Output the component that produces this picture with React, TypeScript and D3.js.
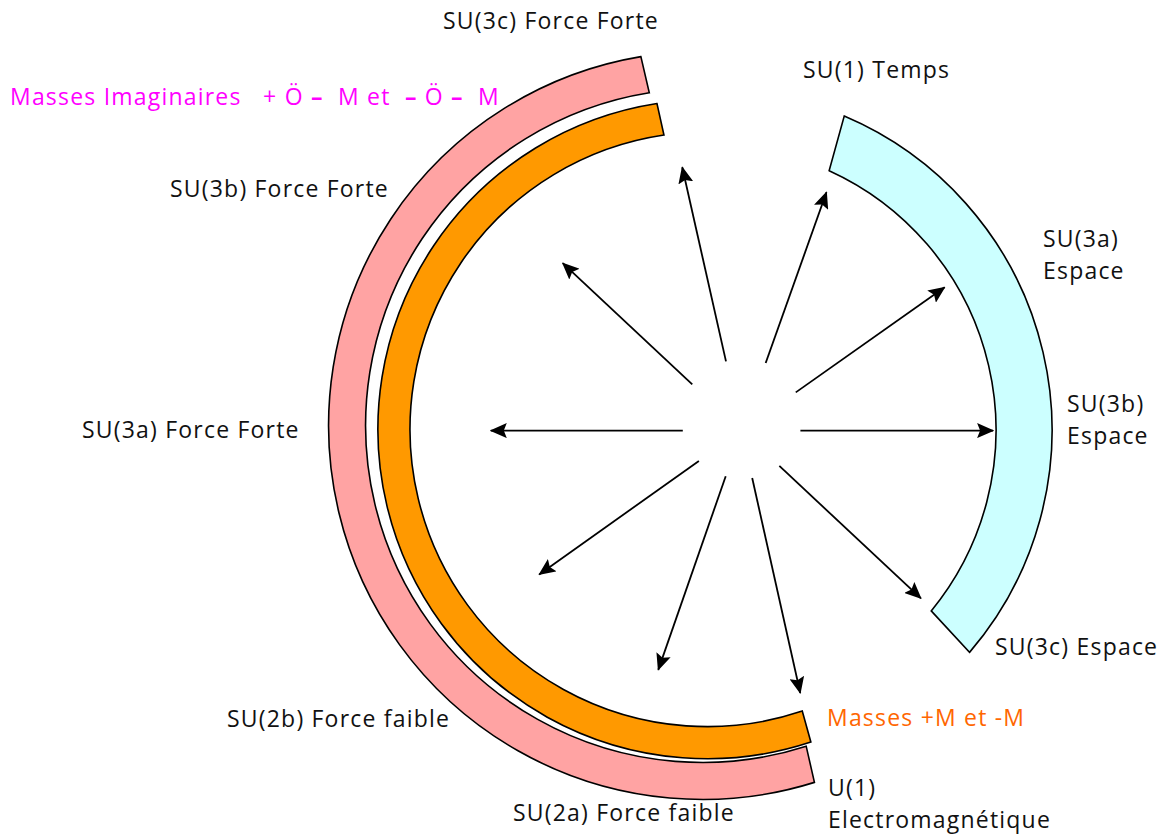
import React from "react";
import * as d3 from "d3";

// ---- Data ----
// Arcs (bands): centre, radii and angular extent (degrees, 0 = up, clockwise)
const bandIds = ["imaginaires", "masses", "espace"];
const bandFill = ["#FFA3A3", "#FF9900", "#CCFFFF"];
const bandCx = [702.6, 707.4, 711];
const bandCy = [425.5, 429.2, 430];
const bandInnerR = [337, 297.4, 285];
const bandOuterR = [374, 329.5, 341];
const bandInnerStart = [162.1, 161.4, 24.5];
const bandInnerEnd = [350.9, 351.6, 129.4];
const bandOuterStart = [162.6, 161.7, 23.0];
const bandOuterEnd = [350.5, 351.2, 130.7];

// Arrows radiating from the centre
const arrowCenter = [741.6, 430.6];
const arrowAngle = [-46.9, -12.7, 19.6, 54.8, 90, 133.1, 167.4, 199.2, 234.6, 270];
const arrowStartR = [67.6, 71, 71.8, 66.3, 58.8, 51.7, 48.6, 48.3, 52.4, 58.8];
const arrowEndR = [245, 270, 253, 248.5, 251.5, 245.6, 268.9, 253.4, 248.3, 250.8];

// Labels
const labelText = [
  ["SU(3c) Force Forte"],
  ["Masses Imaginaires   + Ö –  M et  – Ö –  M"],
  ["SU(1) Temps"],
  ["SU(3b) Force Forte"],
  ["SU(3a)", "Espace"],
  ["SU(3a) Force Forte"],
  ["SU(3b)", "Espace"],
  ["SU(3c) Espace"],
  ["Masses +M et -M"],
  ["SU(2b) Force faible"],
  ["U(1)", "Electromagnétique"],
  ["SU(2a) Force faible"],
];
const labelColor = [
  "#111", "#FF00FF", "#111", "#111", "#111", "#111",
  "#111", "#111", "#FF6600", "#111", "#111", "#111",
];
const labelX = [443, 10, 803, 170, 1043, 82, 1067, 995, 827, 227, 828, 513];
const labelY = [29, 105, 78, 197, 247, 438, 412, 655, 726, 727, 796, 821];

const deg = d3.scaleLinear().domain([0, 360]).range([0, 2 * Math.PI]);

function bandPath(i: number): string {
  const cx = bandCx[i];
  const cy = bandCy[i];
  const toCanvas = (a: number) => deg(a) - Math.PI / 2;
  const ao0 = toCanvas(bandOuterStart[i]);
  const ao1 = toCanvas(bandOuterEnd[i]);
  const ai0 = toCanvas(bandInnerStart[i]);
  const ai1 = toCanvas(bandInnerEnd[i]);
  const p = d3.path();
  p.moveTo(cx + bandOuterR[i] * Math.cos(ao0), cy + bandOuterR[i] * Math.sin(ao0));
  p.arc(cx, cy, bandOuterR[i], ao0, ao1, false);
  p.lineTo(cx + bandInnerR[i] * Math.cos(ai1), cy + bandInnerR[i] * Math.sin(ai1));
  p.arc(cx, cy, bandInnerR[i], ai1, ai0, true);
  p.closePath();
  return p.toString();
}

function arrowPts(i: number) {
  const a = deg(arrowAngle[i]);
  const [cx, cy] = arrowCenter;
  return {
    x1: cx + arrowStartR[i] * Math.sin(a),
    y1: cy - arrowStartR[i] * Math.cos(a),
    x2: cx + arrowEndR[i] * Math.sin(a),
    y2: cy - arrowEndR[i] * Math.cos(a),
  };
}

function renderLine(l: string) {
  // dashes drawn heavier, as in the original symbol rendering
  const parts = l.split(/(–)/);
  return parts.map((s, k) =>
    s === "–" ? (
      <tspan key={k} fontWeight="bold">
        {s}
      </tspan>
    ) : (
      <tspan key={k}>{s}</tspan>
    )
  );
}

export default function App() {
  return (
    <svg
      width={1172}
      height={835}
      style={{ position: "absolute", left: 0, top: 0, background: "#fff" }}
    >
      <defs>
        <marker
          id="ah"
          markerUnits="userSpaceOnUse"
          viewBox="0 0 17 15"
          markerWidth={17}
          markerHeight={15}
          refX={16}
          refY={7.5}
          orient="auto"
        >
          <path d="M0,0 L17,7.5 L0,15 L3,7.5 Z" fill="#000" />
        </marker>
      </defs>
      {bandIds.map((id, i) => (
        <path
          key={id}
          d={bandPath(i)}
          fill={bandFill[i]}
          stroke="#000"
          strokeWidth={1.6}
          strokeLinejoin="miter"
        />
      ))}
      {arrowAngle.map((_, i) => {
        const p = arrowPts(i);
        return (
          <line
            key={i}
            {...p}
            stroke="#000"
            strokeWidth={1.8}
            markerEnd="url(#ah)"
          />
        );
      })}
      {labelText.map((lines, i) =>
        lines.map((l, j) => (
          <text
            key={`${i}-${j}`}
            x={labelX[i]}
            y={labelY[i] + j * 31.5}
            fill={labelColor[i]}
            fontFamily="'Open Sans', sans-serif"
            fontSize={23}
            letterSpacing={1.2}
            style={{ whiteSpace: "pre" }}
          >
            {renderLine(l)}
          </text>
        ))
      )}
    </svg>
  );
}
